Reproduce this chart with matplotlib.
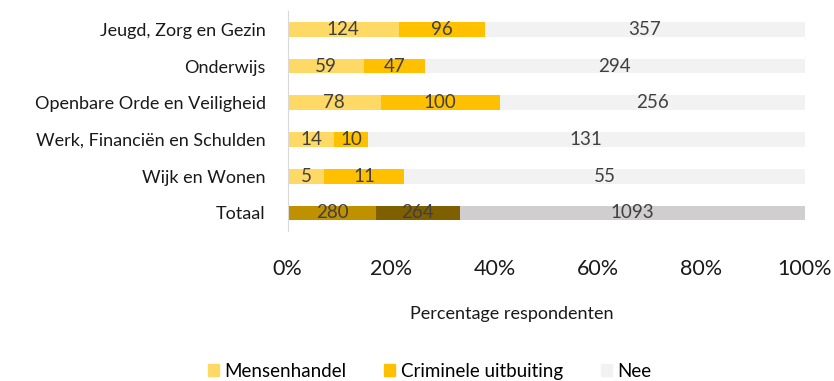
import matplotlib.pyplot as plt
from matplotlib.patches import Patch

# ==========================
# Data
# ==========================
categorieen = ["Jeugd, Zorg en Gezin", "Onderwijs", "Openbare Orde en Veiligheid",
               "Werk, Financiën en Schulden", "Wijk en Wonen", "Totaal"]
mensenhandel = [124, 59, 78, 14, 5, 280]
criminele_uitbuiting = [96, 47, 100, 10, 11, 264]
nee = [357, 294, 256, 131, 55, 1093]

reeksen = ["Mensenhandel", "Criminele uitbuiting", "Nee"]
kleuren = ["#FFD966", "#FFC000", "#F2F2F2"]
kleuren_totaal = ["#BF9000", "#7F6000", "#D0CECE"]

plt.rcParams["font.family"] = ["Lato", "DejaVu Sans"]

fig = plt.figure(figsize=(8.34, 3.81), dpi=100)
ax = fig.add_axes([0.345, 0.393, 0.62, 0.578])

y = list(range(len(categorieen)))
waarden = [mensenhandel, criminele_uitbuiting, nee]
totalen = [a + b + c for a, b, c in zip(*waarden)]

links = [0.0] * len(categorieen)
for s, reeks in enumerate(waarden):
    pct = [v / t * 100 for v, t in zip(reeks, totalen)]
    kl = [kleuren_totaal[s] if c == "Totaal" else kleuren[s] for c in categorieen]
    ax.barh(y, pct, left=links, height=0.4, color=kl)
    for i, (p, v) in enumerate(zip(pct, reeks)):
        ax.text(links[i] + p / 2, y[i], str(v), ha="center", va="center",
                fontsize=13.5, color="#404040")
    links = [l + p for l, p in zip(links, pct)]

ax.set_xlim(0, 100)
ax.set_ylim(len(categorieen) - 0.5, -0.5)
ax.set_yticks(y)
ax.set_yticklabels(categorieen, fontsize=13, color="#1a1a1a")
ax.set_xticks([0, 20, 40, 60, 80, 100])
ax.set_xticklabels(["0%", "20%", "40%", "60%", "80%", "100%"], fontsize=15.5, color="#1a1a1a")
ax.tick_params(axis="y", length=0, pad=16)
ax.tick_params(axis="x", length=0, pad=20)
for kant in ["top", "right", "bottom"]:
    ax.spines[kant].set_visible(False)
ax.spines["left"].set_color("#D9D9D9")

ax.set_xlabel("Percentage respondenten", fontsize=13, color="#1a1a1a")
ax.xaxis.set_label_coords(0.433, -0.34)

handles = [Patch(color=k) for k in kleuren]
fig.legend(handles, reeksen, loc="center", bbox_to_anchor=(0.515, 0.025), ncol=3,
           frameon=False, fontsize=13.5, handlelength=0.6, handleheight=0.6,
           columnspacing=2.0, handletextpad=0.3)

fig.savefig("out.png", dpi=100)
